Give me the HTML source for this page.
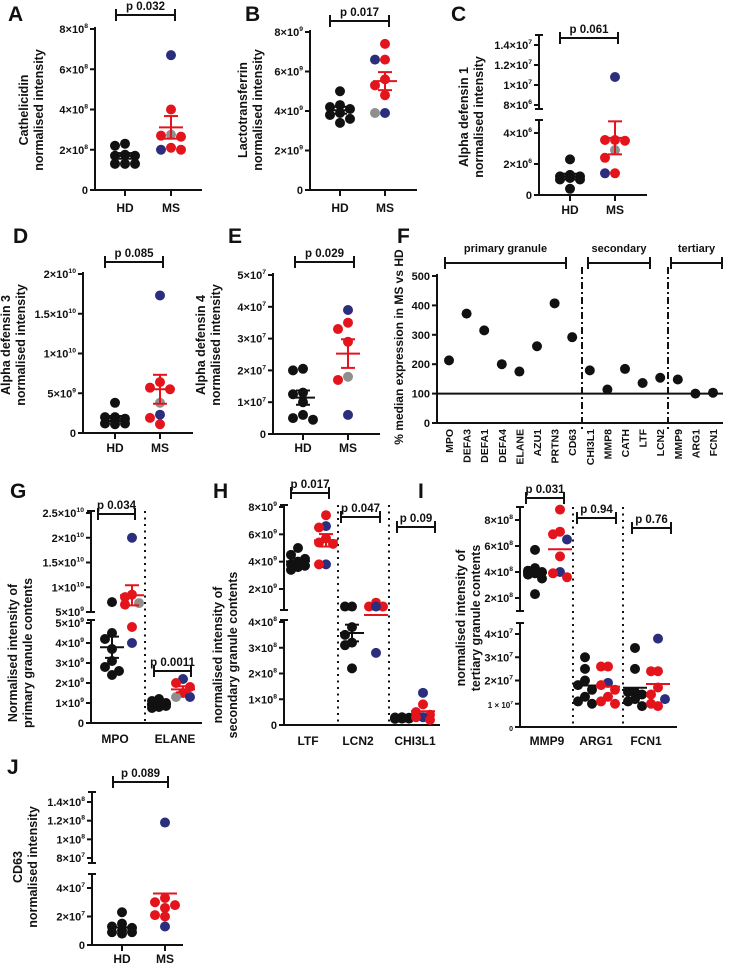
<!DOCTYPE html>
<html><head><meta charset="utf-8">
<style>
html,body{margin:0;padding:0;background:#fff;}
svg{display:block;font-family:"Liberation Sans",Arial,sans-serif;font-weight:bold;}
</style></head>
<body>
<svg id="fig" width="730" height="966" viewBox="0 0 730 966" xmlns="http://www.w3.org/2000/svg"></svg>
<script>
// ---- data ----
const aHD=[2.3e8,2.2e8,1.75e8,1.7e8,1.7e8,1.3e8,1.3e8,1.3e8];
const aMS=[6.7e8,4.0e8,2.75e8,2.7e8,2.65e8,2.0e8,2.0e8,2.1e8];
const aMSc="brgrrbrr";
const bHD=[5.0e9,4.3e9,4.2e9,4.1e9,3.9e9,3.8e9,3.6e9,3.4e9];
const bMS=[7.4e9,6.6e9,6.6e9,5.6e9,5.3e9,4.8e9,3.9e9,3.9e9];
const bMSc="rrbrrrbg";
const cHD=[2.3e6,1.3e6,1.2e6,1.2e6,1.1e6,1.0e6,1.0e6,0.4e6];
const cMS=[10.8e6,3.55e6,3.5e6,3.55e6,2.9e6,2.4e6,1.4e6,1.4e6];
const cMSc="brrrgrrb";
const dHD=[3.8e9,2.0e9,2.0e9,1.8e9,1.5e9,1.2e9,1.1e9,1.2e9];
const dMS=[17.3e9,6.4e9,5.5e9,5.7e9,3.8e9,2.3e9,1.1e9,1.9e9];
const dMSc="brrrgbrr";
const eHD=[2.0e7,2.05e7,1.3e7,1.25e7,1.0e7,0.6e7,0.5e7,0.45e7];
const eMS=[3.9e7,3.5e7,3.3e7,2.9e7,1.7e7,1.8e7,0.6e7];
const eMSc="brrrrgb";
const fCats=["MPO","DEFA3","DEFA1","DEFA4","ELANE","AZU1","PRTN3","CD63","CHI3L1","MMP8","CATH","LTF","LCN2","MMP9","ARG1","FCN1"];
const fVals=[213,372,315,200,175,261,407,292,179,114,184,136,154,148,100,103];
const fTicks=[0,100,200,300,400,500];
const gMpoHD=[7e9,4.5e9,4.2e9,3.7e9,3.1e9,2.8e9,2.6e9,2.4e9];
const gMpoMS=[2e10,8.5e9,8e9,6.8e9,6.5e9,4.8e9,4e9];
const gMpoMSc="brrgrrb";
const gElaHD=[1.2e9,1.1e9,1.0e9,0.95e9,0.9e9,0.85e9,0.8e9,0.75e9];
const gElaMS=[2.2e9,2.0e9,1.8e9,1.5e9,1.3e9,1.3e9];
const gElaMSc="brrrgb";
const hLtfHD=[5.0e9,4.5e9,4.2e9,4.0e9,3.8e9,3.7e9,3.6e9,3.4e9];
const hLtfMS=[7.4e9,6.6e9,6.5e9,5.7e9,5.3e9,5.4e9,3.8e9,3.8e9];
const hLtfMSc="rbrrrrbr";
const hLcnHD=[4.6e8,4.6e8,3.8e8,3.5e8,3.2e8,3.1e8,2.2e8];
const hLcnMS=[4.75e8,4.6e8,4.6e8,4.6e8,2.8e8];
const hLcnMSc="rrrbb";
const hChiHD=[3.0e7,2.9e7,2.8e7,2.7e7,2.6e7,2.5e7,2.4e7,2.5e7];
const hChiMS=[12.5e7,8e7,5e7,4e7,3e7,2e7,3e7];
const hChiMSc="brrrbrr";
const iMmpHD=[5.7e8,4.3e8,4.1e8,4.0e8,3.9e8,3.8e8,3.5e8,2.3e8];
const iMmpMS=[8.8e8,7.1e8,6.9e8,6.5e8,5.2e8,4.0e8,3.9e8,3.6e8];
const iMmpMSc="rrrbrbrr";
const iArgHD=[3.0e7,2.5e7,2.0e7,1.8e7,1.6e7,1.3e7,1.1e7,1.0e7];
const iArgMS=[2.6e7,2.6e7,1.9e7,1.8e7,1.6e7,1.3e7,1.1e7,1.0e7];
const iArgMSc="rrbrrrrr";
const iFcnHD=[3.4e7,2.5e7,1.5e7,1.5e7,1.4e7,1.2e7,1.1e7,0.9e7];
const iFcnMS=[3.8e7,2.4e7,2.4e7,1.7e7,1.2e7,1.4e7,1.0e7,0.9e7];
const iFcnMSc="brrrbrrr";
const jHD=[2.3e7,1.5e7,1.3e7,1.2e7,1.0e7,0.9e7,0.9e7,0.8e7];
const jMS=[11.8e7,3.3e7,3.0e7,2.8e7,2.6e7,2.1e7,2.0e7,1.3e7];
const jMSc="brrrrrrb";

// ---- drawing ----
const NS='http://www.w3.org/2000/svg';
const svg=document.getElementById('fig');
const COL={k:'#111111',r:'#e3141c',b:'#2a2e7c',g:'#8f8f8f'};
function mk(tag,attrs,name,parent){
  const e=document.createElementNS(NS,tag);
  for(const k in attrs)e.setAttribute(k,attrs[k]);
  
  
  (parent||svg).appendChild(e);return e;
}
function line(x1,y1,x2,y2,name,g,extra){return mk('line',Object.assign({x1,y1,x2,y2,stroke:'#111','stroke-width':2},extra||{}),name,g);}
function txt(x,y,s,size,name,g,extra){const t=mk('text',Object.assign({x,y,'font-size':size,fill:'#111'},extra||{}),name,g);t.textContent=s;return t;}
function lin(s,v){return s.a[1]+(v-s.a[0])*(s.b[1]-s.a[1])/(s.b[0]-s.a[0]);}
function makeScale(segs){return v=>{for(const s of segs){if(s.vmax===undefined||v<=s.vmax)return lin(s,v);}return lin(segs[segs.length-1],v);};}
function swarm(vals,sc,r,step){
  const idx=vals.map((v,i)=>i).sort((a,b)=>vals[b]-vals[a]);const placed=[];const out=[];
  for(const i of idx){const py=sc(vals[i]);let best=0,bestD=-1;
    for(const k of [0,-1,1]){const cx=k*step;
      const d=placed.length?Math.min(...placed.map(p=>Math.hypot(p.x-cx,p.y-py))):1e9;
      if(d>=r*1.7){best=cx;bestD=d;break;}
      if(d>bestD){bestD=d;best=cx;}}
    placed.push({x:best,y:py});out[i]={x:best,y:py};}
  return out;
}
function tickLabel(x,y,base,exp,size,g){
  const t=mk('text',{x,y,'font-size':size,'text-anchor':'end',fill:'#111'},'y-tick-label',g);
  t.appendChild(document.createTextNode(base));
  if(exp){const sp=mk('tspan',{'font-size':size*0.62,dy:-size*0.45},'tick-exponent',t);sp.textContent=exp;}
}
function yTitle(lines,x,cy,g,size){
  lines.forEach((s,i)=>{txt(x+i*15,cy,s,size||12.5,'y-axis-title',g,{'text-anchor':'middle',transform:`rotate(-90 ${x+i*15} ${cy})`});});
}
function bracket(x1,x2,y,s,g){
  line(x1,y,x2,y,'significance-bracket',g);line(x1,y-6,x1,y+6,'bracket-end',g);line(x2,y-6,x2,y+6,'bracket-end',g);
  txt((x1+x2)/2,y-5,s,11.5,'p-value-label',g,{'text-anchor':'middle'});
}
function panel(p){
  const g=mk('g',{},'panel-'+p.letter.t.toLowerCase());
  txt(p.letter.x,p.letter.y,p.letter.t,21,'panel-letter',g);
  const sc=makeScale(p.segs);
  p.segs.forEach(s=>{line(p.ax,s.line[0],p.ax,s.line[1],'y-axis-line',g);
    if(p.segs.length>1){line(p.ax-4,s.line[0],p.ax+4,s.line[0],'axis-break-mark',g);line(p.ax-4,s.line[1],p.ax+4,s.line[1],'axis-break-mark',g);}});
  const y0=p.segs[0].line[0];
  line(p.ax-1,y0,p.xEnd,y0,'x-axis-line',g);
  p.ticks.forEach(t=>{const y=lin(t[3]!==undefined?p.segs[t[3]]:p.segs[0],t[0]);line(p.ax-5,y,p.ax,y,'y-tick',g);tickLabel(p.ax-7,y+4,t[1],t[2],t[4]||11,g);});
  (p.dotted||[]).forEach(x=>line(x,p.dotRange[0],x,p.dotRange[1],'group-divider',g,{'stroke-dasharray':'2,4.5'}));
  p.cats.forEach(c=>{if(p.xTicks)line(c.x,y0,c.x,y0+6,'x-tick',g);txt(c.x,p.catY,c.t,12,'x-category-label',g,{'text-anchor':'middle'});});
  const r=5,step=p.step||10;
  p.groups.forEach(gr=>{
    const pos=swarm(gr.vals,sc,r,step);
    gr.vals.forEach((v,i)=>{const c=gr.cols?COL[gr.cols[i]]:COL.k;mk('circle',{cx:gr.x+pos[i].x,cy:pos[i].y,r,fill:c},'data-point',g);});
    const n=gr.vals.length,m=gr.vals.reduce((a,b)=>a+b,0)/n;
    const sd=Math.sqrt(gr.vals.reduce((a,b)=>a+(b-m)*(b-m),0)/(n-1)),se=sd/Math.sqrt(n);
    const mc=gr.cols?COL.r:COL.k,ym=sc(m);
    line(gr.x-12,ym,gr.x+12,ym,'mean-line',g,{stroke:mc});
    if(gr.sem!==false){const yh=sc(m+se),yl=sc(m-se);
      line(gr.x,yh,gr.x,yl,'sem-bar',g,{stroke:mc});line(gr.x-7,yh,gr.x+7,yh,'sem-cap',g,{stroke:mc});line(gr.x-7,yl,gr.x+7,yl,'sem-cap',g,{stroke:mc});}
  });
  (p.brackets||[]).forEach(b=>bracket(b[0],b[1],b[2],b[3],g));
  yTitle(p.title[0],p.title[1],p.title[2],g);
  return g;
}
const NI="normalised intensity";
// A
panel({letter:{t:'A',x:8,y:21},ax:95,xEnd:202,segs:[{a:[0,190],b:[8e8,29],line:[190,27]}],
 ticks:[[0,'0'],[2e8,'2×10','8'],[4e8,'4×10','8'],[6e8,'6×10','8'],[8e8,'8×10','8']],
 cats:[{x:125,t:'HD'},{x:171,t:'MS'}],catY:212,xTicks:true,
 groups:[{x:125,vals:aHD},{x:171,vals:aMS,cols:aMSc}],brackets:[[116,175,15,'p 0.032']],
 title:[['Cathelicidin',NI],28,110]});
// B
panel({letter:{t:'B',x:245,y:21},ax:310,xEnd:417,segs:[{a:[0,190],b:[8e9,32],line:[190,30]}],
 ticks:[[0,'0'],[2e9,'2×10','9'],[4e9,'4×10','9'],[6e9,'6×10','9'],[8e9,'8×10','9']],
 cats:[{x:340,t:'HD'},{x:385,t:'MS'}],catY:212,xTicks:true,
 groups:[{x:340,vals:bHD},{x:385,vals:bMS,cols:bMSc}],brackets:[[330,389,21,'p 0.017']],
 title:[['Lactotransferrin',NI],247,110]});
// C
panel({letter:{t:'C',x:451,y:21},ax:539,xEnd:647,
 segs:[{a:[0,195],b:[4e6,133],line:[195,120],vmax:6e6},{a:[8e6,105],b:[1.4e7,45],line:[109,35]}],
 ticks:[[0,'0'],[2e6,'2×10','6'],[4e6,'4×10','6'],[8e6,'8×10','6',1],[1e7,'1×10','7',1],[1.2e7,'1.2×10','7',1],[1.4e7,'1.4×10','7',1]],
 cats:[{x:570,t:'HD'},{x:615,t:'MS'}],catY:214,xTicks:true,
 groups:[{x:570,vals:cHD},{x:615,vals:cMS,cols:cMSc}],brackets:[[560,618,38,'p 0.061']],
 title:[['Alpha defensin 1',NI],468,117]});
// D
panel({letter:{t:'D',x:13,y:243},ax:83,xEnd:193,segs:[{a:[0,433],b:[2e10,274],line:[433,272]}],
 ticks:[[0,'0'],[5e9,'5×10','9'],[1e10,'1×10','10'],[1.5e10,'1.5×10','10'],[2e10,'2×10','10']],
 cats:[{x:115,t:'HD'},{x:160,t:'MS'}],catY:452,xTicks:true,
 groups:[{x:115,vals:dHD},{x:160,vals:dMS,cols:dMSc}],brackets:[[105,163,262,'p 0.085']],
 title:[['Alpha defensin 3',NI],10,345]});
// E
panel({letter:{t:'E',x:228,y:243},ax:273,xEnd:380,segs:[{a:[0,434],b:[5e7,275],line:[434,273]}],
 ticks:[[0,'0'],[1e7,'1×10','7'],[2e7,'2×10','7'],[3e7,'3×10','7'],[4e7,'4×10','7'],[5e7,'5×10','7']],
 cats:[{x:303,t:'HD'},{x:348,t:'MS'}],catY:452,xTicks:true,
 groups:[{x:303,vals:eHD},{x:348,vals:eMS,cols:eMSc}],brackets:[[295,354,262,'p 0.029']],
 title:[['Alpha defensin 4',NI],205,345]});
// F
(function(){
  const g=mk('g',{},'panel-f');
  txt(397,243,'F',21,'panel-letter',g);
  const ax=437,xEnd=723,sf={a:[0,423],b:[500,276]};
  const xf=i=>449+i*17.6;
  line(ax,423,ax,274,'y-axis-line',g);line(ax-1,423,xEnd,423,'x-axis-line',g);
  fTicks.forEach(t=>{const y=lin(sf,t);line(ax-5,y,ax,y,'y-tick',g);tickLabel(ax-7,y+4,String(t),null,11,g);});
  line(ax,lin(sf,100),xEnd,lin(sf,100),'reference-line-100',g);
  [582,668].forEach(x=>line(x,267,x,432,'granule-divider',g,{'stroke-dasharray':'7,3,2,3'}));
  fVals.forEach((v,i)=>mk('circle',{cx:xf(i),cy:lin(sf,v),r:5,fill:'#111'},'data-point',g));
  fCats.forEach((c,i)=>{const x=xf(i)+4,y=429;txt(x,y,c,10.5,'x-category-label',g,{'text-anchor':'end',transform:`rotate(-90 ${x} ${y})`});});
  [[445,566,'primary granule'],[588,650,'secondary'],[671,722,'tertiary']].forEach(b=>{
    line(b[0],263,b[1],263,'granule-bracket',g);line(b[0],257,b[0],269,'bracket-end',g);line(b[1],257,b[1],269,'bracket-end',g);
    txt((b[0]+b[1])/2,252,b[2],11,'granule-label',g,{'text-anchor':'middle'});});
  txt(403,347,'% median expression in MS vs HD',12,'y-axis-title',g,{'text-anchor':'middle',transform:'rotate(-90 403 347)'});
})();
// G
panel({letter:{t:'G',x:10,y:498},ax:91,xEnd:202,step:7,
 segs:[{a:[0,723],b:[5e9,623],line:[723,620],vmax:5.2e9},{a:[5e9,612],b:[2.5e10,513],line:[612,511]}],
 ticks:[[0,'0'],[1e9,'1×10','9'],[2e9,'2×10','9'],[3e9,'3×10','9'],[4e9,'4×10','9'],[5e9,'5×10','9'],
  [5e9,'5×10','9',1],[1e10,'1×10','10',1],[1.5e10,'1.5×10','10',1],[2e10,'2×10','10',1],[2.5e10,'2.5×10','10',1]],
 cats:[{x:115,t:'MPO'},{x:175,t:'ELANE'}],catY:743,dotted:[145],dotRange:[511,723],
 groups:[{x:112,vals:gMpoHD},{x:132,vals:gMpoMS,cols:gMpoMSc},{x:159,vals:gElaHD},{x:183,vals:gElaMS,cols:gElaMSc}],
 brackets:[[98,135,514,'p 0.034'],[154,191,671,'p 0.0011']],
 title:[['Normalised intensity of','primary granule contents'],17,653]});
// H
panel({letter:{t:'H',x:213,y:498},ax:284,xEnd:440,step:7,
 segs:[{a:[0,725],b:[4e8,622],line:[725,620],vmax:6e8},{a:[2e9,589],b:[8e9,507],line:[610,505]}],
 ticks:[[0,'0'],[1e8,'1×10','8'],[2e8,'2×10','8'],[3e8,'3×10','8'],[4e8,'4×10','8'],
  [2e9,'2×10','9',1],[4e9,'4×10','9',1],[6e9,'6×10','9',1],[8e9,'8×10','9',1]],
 cats:[{x:308,t:'LTF'},{x:358,t:'LCN2'},{x:415,t:'CHI3L1'}],catY:745,dotted:[338,389],dotRange:[505,725],
 groups:[{x:298,vals:hLtfHD},{x:326,vals:hLtfMS,cols:hLtfMSc},{x:352,vals:hLcnHD},{x:376,vals:hLcnMS,cols:hLcnMSc,sem:false},{x:402,vals:hChiHD,sem:false},{x:423,vals:hChiMS,cols:hChiMSc,sem:false}],
 brackets:[[291,329,493,'p 0.017'],[341,380,517,'p 0.047'],[397,435,527,'p 0.09']],
 title:[['normalised intensity of','secondary granule contents'],222,655]});
// I
panel({letter:{t:'I',x:418,y:498},ax:520,xEnd:677,step:7,
 segs:[{a:[0,727],b:[4e7,634],line:[727,623],vmax:6e7},{a:[2e8,598],b:[8e8,520],line:[611,507]}],
 ticks:[[0,'0',null,0,7],[1e7,'1 × 10','7',0,8],[2e7,'2×10','7'],[3e7,'3×10','7'],[4e7,'4×10','7'],
  [2e8,'2×10','8',1],[4e8,'4×10','8',1],[6e8,'6×10','8',1],[8e8,'8×10','8',1]],
 cats:[{x:547,t:'MMP9'},{x:596,t:'ARG1'},{x:646,t:'FCN1'}],catY:745,dotted:[573,623],dotRange:[507,727],
 groups:[{x:535,vals:iMmpHD,sem:false},{x:560,vals:iMmpMS,cols:iMmpMSc,sem:false},{x:585,vals:iArgHD,sem:false},{x:608,vals:iArgMS,cols:iArgMSc,sem:false},{x:635,vals:iFcnHD,sem:false},{x:658,vals:iFcnMS,cols:iFcnMSc,sem:false}],
 brackets:[[526,564,498,'p 0.031'],[577,616,518,'p 0.94'],[632,671,528,'p 0.76']],
 title:[['normalised intensity of','tertiary granule contents'],465,618]});
// J
panel({letter:{t:'J',x:7,y:774},ax:92,xEnd:183,
 segs:[{a:[0,945],b:[4e7,888],line:[945,874],vmax:6e7},{a:[8e7,858],b:[1.4e8,802],line:[863,792]}],
 ticks:[[0,'0'],[2e7,'2×10','7'],[4e7,'4×10','7'],[8e7,'8×10','7',1],[1e8,'1×10','8',1],[1.2e8,'1.2×10','8',1],[1.4e8,'1.4×10','8',1]],
 cats:[{x:122,t:'HD'},{x:165,t:'MS'}],catY:963,xTicks:true,
 groups:[{x:122,vals:jHD,sem:false},{x:165,vals:jMS,cols:jMSc,sem:false}],brackets:[[113,168,782,'p 0.089']],
 title:[['CD63',NI],22,867]});
</script>
</body></html>
